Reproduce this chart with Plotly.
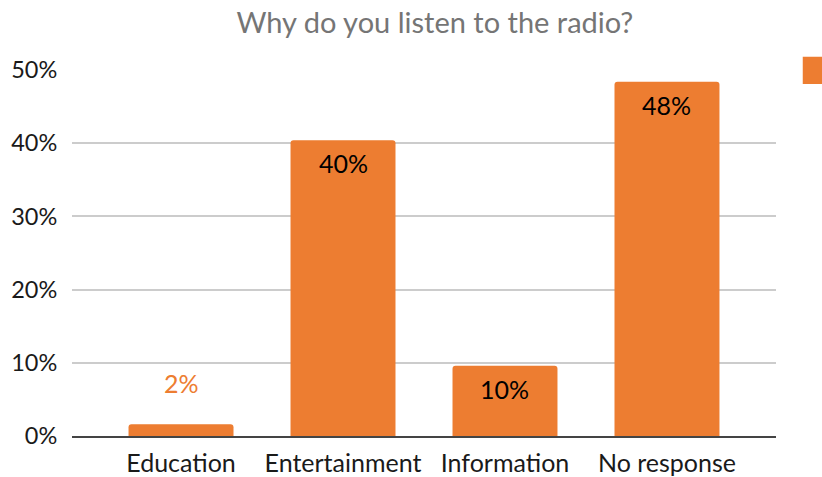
import plotly.graph_objects as go

categories = ["Education", "Entertainment", "Information", "No response"]
values = [1.6, 40.4, 9.6, 48.4]
labels = ["2%", "40%", "10%", "48%"]
tick_vals = [0, 10, 20, 30, 40, 50]
tick_text = ["0%", "10%", "20%", "30%", "40%", "50%"]

ORANGE = "#ED7D31"
FONT = "Lato"

fig = go.Figure()
fig.add_trace(go.Bar(
    x=categories,
    y=values,
    name="Percentage",
    marker=dict(color=ORANGE, line=dict(width=0)),
    showlegend=False,
    hoverinfo="x+y",
))

annotations = []
for c, v, t in zip(categories, values, labels):
    inside = v > 5
    annotations.append(dict(
        x=c, y=v, xref="x", yref="y",
        text=t, showarrow=False,
        yanchor="middle", xanchor="center",
        yshift=-23 if inside else 41,
        font=dict(family=FONT, size=25, color="black" if inside else ORANGE),
    ))

fig.update_layout(
    width=822,
    height=477,
    margin=dict(l=72, r=46, t=70, b=41, autoexpand=False),
    paper_bgcolor="white",
    plot_bgcolor="white",
    bargap=0.352,
    barcornerradius=3,
    title=dict(
        text="Why do you listen to the radio?",
        x=0.529, xanchor="center",
        y=0.953, yanchor="middle",
        font=dict(family=FONT, size=29, color="#757575"),
    ),
    font=dict(family=FONT, color="#1a1a1a"),
    annotations=annotations,
    xaxis=dict(
        range=[-0.673, 3.673],
        showgrid=False,
        showline=True,
        linecolor="#444444",
        linewidth=2,
        ticks="outside",
        ticklen=4,
        tickcolor="rgba(0,0,0,0)",
        tickfont=dict(family=FONT, size=25, color="#1a1a1a"),
        fixedrange=True,
    ),
    yaxis=dict(
        range=[0, 50],
        tickvals=tick_vals,
        ticktext=tick_text,
        showgrid=True,
        gridcolor="#cccccc",
        gridwidth=1.5,
        zeroline=False,
        showline=False,
        ticks="outside",
        ticklen=9,
        tickcolor="rgba(0,0,0,0)",
        tickfont=dict(family=FONT, size=23.5, color="#1a1a1a"),
        fixedrange=True,
    ),
    shapes=[dict(
        type="rect", xref="paper", yref="paper",
        x0=1.038, x1=1.1, y0=0.962, y1=1.036,
        fillcolor=ORANGE, line=dict(width=0),
    )],
)

fig.write_html("out.html")
